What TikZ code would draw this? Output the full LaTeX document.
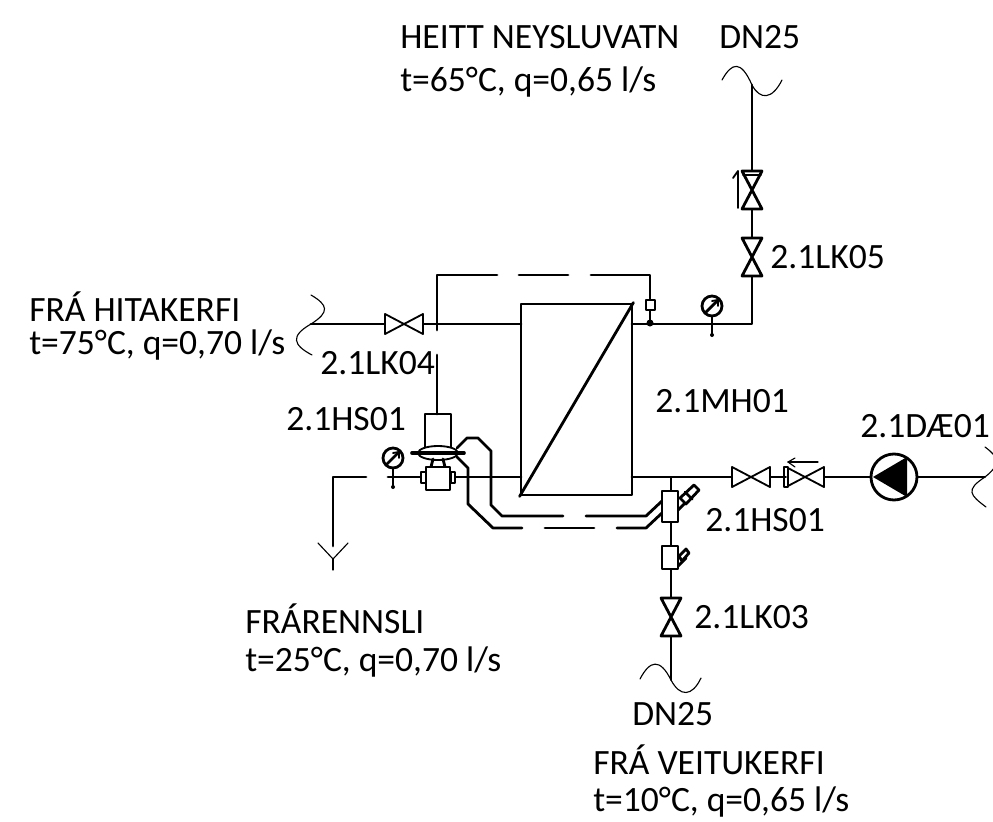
\documentclass[tikz,border=0pt]{standalone}
\usepackage{fontspec}
\setmainfont{Carlito}
\usetikzlibrary{arrows}

\begin{document}
\begin{tikzpicture}[line cap=round,line join=round,x=0.025cm,y=-0.025cm,
    pipe/.style={line width=2pt,color=black},
    thinpipe/.style={line width=1.3pt,color=black},
    wave/.style={line width=0.8pt,color=black},
    label/.style={anchor=west,inner sep=0pt,font=\fontsize{25.3}{27}\selectfont},
    valve/.pic={\draw[pipe,fill=white] (-10,-19) -- (10,-19) -- (-10,19) -- (10,19) -- cycle;},
    valveh/.pic={\draw[thinpipe,fill=white] (-19,-10) -- (-19,10) -- (19,-10) -- (19,10) -- cycle;},
    gauge/.pic={
        \draw[pipe,fill=white] (0,0) circle (10);
        \draw[pipe] (-6,6) -- (6,-6);
        \draw[thinpipe] (0,-5) -- (6,-6) -- (6,0);
        \draw[pipe] (0,10) -- (0,29);
        \fill (0,29) circle (2);
    }]
    \useasboundingbox (0,0) rectangle (993,822);

    % joints
    \coordinate (hotin) at (311,324);
    \coordinate (hxhotin) at (521,324);
    \coordinate (hxhotout) at (632,324);
    \coordinate (corner) at (752,324);
    \coordinate (hottop) at (752,85);
    \coordinate (drain) at (333,477);
    \coordinate (drainend) at (333,546);
    \coordinate (hxcoldin) at (632,477);
    \coordinate (tee) at (671,477);
    \coordinate (coldin) at (671,680);
    \coordinate (bodyin) at (388,477);
    \coordinate (hxcoldout) at (521,477);
    \coordinate (pumpout) at (985,477);

    % heat exchanger
    \node[draw,pipe,minimum width=0.025cm*111,minimum height=0.025cm*191,inner sep=0pt] (mh) at (576.5,399.5) {};
    \draw[pipe] (mh.south west) -- (mh.north east);

    % pipes
    \draw[pipe] (hotin) -- (hxhotin);
    \draw[pipe] (hxhotout) -- (corner) -- (hottop);
    \draw[pipe] (bodyin) -- (hxcoldout);
    \draw[pipe] (drain)+(33,0) -- (drain) -- (drainend);
    \draw[pipe] (hxcoldin) -- (tee);
    \draw[thinpipe] (tee) -- (pumpout);
    \draw[thinpipe] (tee) -- (coldin);

    % valves
    \path (752,190) pic {valve};
    \draw[thinpipe] (743,175) -- (761,175);
    \path (752,257) pic {valve};
    \path (671,617) pic {valve};
    \path (404,324) pic {valveh};
    \path (751,477) pic {valveh};
    \path (805,477) pic {valveh};
    \draw[thinpipe,fill=white] (784,467) rectangle (788,487);
    \draw[thinpipe] (783,477) -- (786,477);

    % flow arrows
    \draw[thinpipe] (738,208) -- (738,171) -- (733,178);
    \draw[wave] (818,462) -- (788,462);
    \draw[wave] (795,458) -- (788,462) -- (795,467);

    % gauges
    \path (712,306) pic {gauge};
    \path (393,458) pic {gauge};

    % control lines
    \draw[pipe] (437,330) -- (437,275) -- (497,275);
    \draw[pipe] (519,275) -- (568,275);
    \draw[pipe] (591,275) -- (650,275) -- (650,300);
    \draw[pipe] (650,310) -- (650,324);
    \draw[pipe,fill=white] (646,300) rectangle (655,310);
    \fill (650,323) circle (3.5);
    \draw[pipe] (437,355) -- (437,414);
    \draw[pipe] (457,448) -- (467,438) -- (478,438) -- (491,451) -- (491,505) -- (502,516) -- (563,516);
    \draw[pipe] (586,516) -- (646,516) -- (662,501);
    \draw[pipe] (457,457) -- (468,468) -- (468,504) -- (493,528) -- (522,528);
    \draw[pipe] (545,528) -- (594,528);
    \draw[pipe] (617,528) -- (646,528) -- (662,513);

    % regulator
    \draw[pipe] (425,447) -- (425,414) -- (451,414) -- (451,447);
    \draw[thinpipe,fill=white] (438,453) ellipse (20 and 7);
    \draw[line width=2.6pt] (412,453) -- (464,453);
    \draw[pipe] (433,459) -- (431,467);
    \draw[pipe] (443,459) -- (445,467);
    \draw[thinpipe,fill=white] (421,472) rectangle (426,483);
    \draw[thinpipe,fill=white] (451,472) rectangle (455,483);
    \draw[pipe,fill=white] (426,467) rectangle (450,490);

    % strainers
    \draw[pipe,fill=white] (662,491) rectangle (678,522);
    \draw[pipe] (678,510) -- (690,498);
    \draw[pipe,fill=white] (680,498) -- (694,485) -- (699,490) -- (686,504) -- cycle;
    \draw[pipe] (685,492) -- (692,499);
    \draw[pipe,fill=white] (662,546) rectangle (678,569);
    \draw[pipe] (678,566) -- (686,558);
    \draw[pipe,fill=white] (679,556) -- (686,549) -- (689,553) -- (682,561) -- cycle;

    % pump
    \node[draw,circle,pipe,fill=white,minimum size=0.025cm*46,inner sep=0pt] (pump) at (894,477) {};
    \fill (873,477) -- (907,457) -- (907,497) -- cycle;

    % drain funnel
    \draw[wave] (318,543) -- (333,559) -- (348,543);
    \draw[wave] (333,559) -- (333,570);

    % pipe ends
    \draw[wave] (722,80) .. controls (732,62) and (741,60) .. (752,85) .. controls (760,100) and (772,100) .. (782,80);
    \draw[wave] (640,679) .. controls (650,660) and (660,658) .. (671,680) .. controls (680,697) and (692,697) .. (701,678);
    \draw[wave] (311,295) .. controls (328,305) and (330,312) .. (311,324) .. controls (290,336) and (293,345) .. (312,355);
    \draw[wave] (985,447) .. controls (1000,458) and (1000,465) .. (985,477) .. controls (965,490) and (970,495) .. (986,507);

    % labels
    \node[label] (t1) at (400,37) {HEITT NEYSLUVATN};
    \node[label] (t2) at (719,37) {DN25};
    \node[label] (t3) at (400,82) {t=65°C, q=0,65 l/s};
    \node[label] (t4) at (29,307) {FRÁ HITAKERFI};
    \node[label] (t5) at (29,345) {t=75°C, q=0,70 l/s};
    \node[label] (t6) at (320,363) {2.1LK04};
    \node[label] (t7) at (770,257) {2.1LK05};
    \node[label] (t8) at (655,401) {2.1MH01};
    \node[label] (t9) at (860,426) {2.1DÆ01};
    \node[label] (t10) at (286,419) {2.1HS01};
    \node[label] (t11) at (705,520) {2.1HS01};
    \node[label] (t12) at (694,617) {2.1LK03};
    \node[label] (t13) at (245,619) {FRÁRENNSLI};
    \node[label] (t14) at (245,662) {t=25°C, q=0,70 l/s};
    \node[label] (t15) at (632,714) {DN25};
    \node[label] (t16) at (593,760) {FRÁ VEITUKERFI};
    \node[label] (t17) at (593,802) {t=10°C, q=0,65 l/s};
\end{tikzpicture}
\end{document}
